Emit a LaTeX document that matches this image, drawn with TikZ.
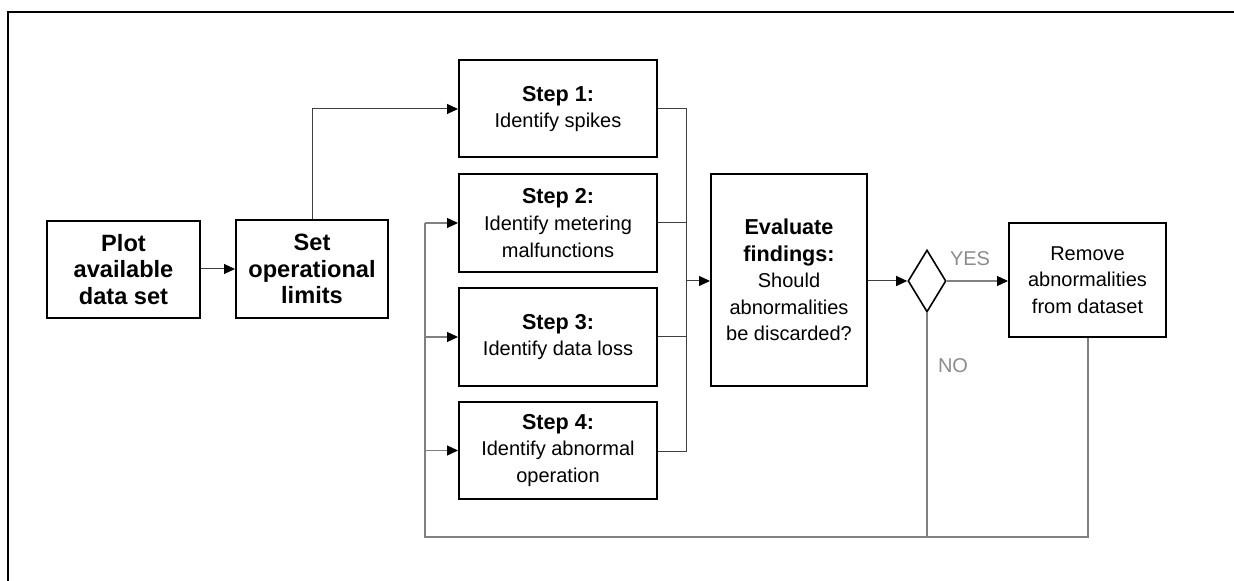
\documentclass[tikz,border=0pt]{standalone}
\usepackage{fontspec}
\setmainfont{Liberation Sans}
\usetikzlibrary{arrows.meta,shapes.geometric}
\newcommand{\bb}[1]{{\fontsize{10.8pt}{13.3pt}\selectfont\bfseries #1}}
\newcommand{\bigb}[1]{{\fontsize{11.8pt}{13.3pt}\selectfont\bfseries #1}}
\begin{document}
\begin{tikzpicture}[x=0.5pt,y=-0.5pt,
  box/.style={draw=black,line width=1pt,align=center,inner sep=1pt,
    font=\fontsize{10pt}{13.3pt}\selectfont},
  conn/.style={draw=black!75,line width=0.5pt},
  fb/.style={draw=black!50,line width=0.6pt},
  arr/.style={-{Triangle[length=5.5pt,width=5pt,color=black]}},
  lab/.style={text=black!45,font=\fontsize{10pt}{12pt}\selectfont}]
\useasboundingbox (0,0) rectangle (1234,581);
\draw[line width=1pt] (8,581) -- (8,12) -- (1234,12);

\node[box,minimum width=76.5pt,minimum height=48.5pt] (plot) at (123.5,269.5) {\bigb{Plot}\\\bigb{available}\\\bigb{data set}};
\node[box,minimum width=76pt,minimum height=49pt] (set) at (312,269) {\bigb{Set}\\\bigb{operational}\\\bigb{limits}};
\node[box,minimum width=99pt,minimum height=48.5pt] (s1) at (558,109) {\bb{Step 1:}\\Identify spikes};
\node[box,minimum width=99pt,minimum height=49pt] (s2) at (558,223) {\bb{Step 2:}\\Identify metering\\malfunctions};
\node[box,minimum width=99pt,minimum height=49pt] (s3) at (558,337) {\bb{Step 3:}\\Identify data loss};
\node[box,minimum width=99pt,minimum height=48.5pt] (s4) at (558,450.5) {\bb{Step 4:}\\Identify abnormal\\operation};
\node[box,minimum width=78pt,minimum height=106pt] (eval) at (789,280) {\bb{Evaluate}\\\bb{findings:}\\Should\\abnormalities\\be discarded?};
\node[draw=black,line width=0.8pt,diamond,inner sep=0pt,minimum width=19pt,minimum height=31pt] (dia) at (927,281) {};
\node[box,minimum width=78.5pt,minimum height=57pt] (rem) at (1087.5,280) {Remove\\abnormalities\\from dataset};

\draw[conn,arr] (plot.east |- set.west) -- (set.west);
\draw[conn,arr] (set.north) |- (s1.west);

\coordinate (bt) at (686,109);
\coordinate (bb) at (686,452);
\draw[conn] (s1.east) -- (bt) -- (bb) -- (bb -| s4.east);
\draw[conn] (s2.east) -- (s2.east -| bt);
\draw[conn] (s3.east) -- (s3.east -| bt);
\draw[conn,arr] (bt |- dia.west) -- (dia.west -| eval.west);

\draw[conn,arr] (eval.east |- dia.west) -- (dia.west);
\draw[conn,fb,arr] (dia.east) -- (dia.east -| rem.west);
\node[lab] (yes) at (970,259) {YES};
\node[lab] (no) at (953,366) {NO};

\coordinate (rb) at (1088,537);
\coordinate (lb) at (425,537);
\coordinate (lt) at (425,223);
\draw[fb] (rem.south -| rb) -- (rb) -- (lb) -- (lt);
\draw[fb] (dia.south) -- (dia.south |- lb);
\draw[fb,arr] (lt) -- (s2.west);
\draw[fb,arr] (lb |- s3.west) -- (s3.west);
\draw[fb,arr] (lb |- s4.west) -- (s4.west);
\end{tikzpicture}
\end{document}
